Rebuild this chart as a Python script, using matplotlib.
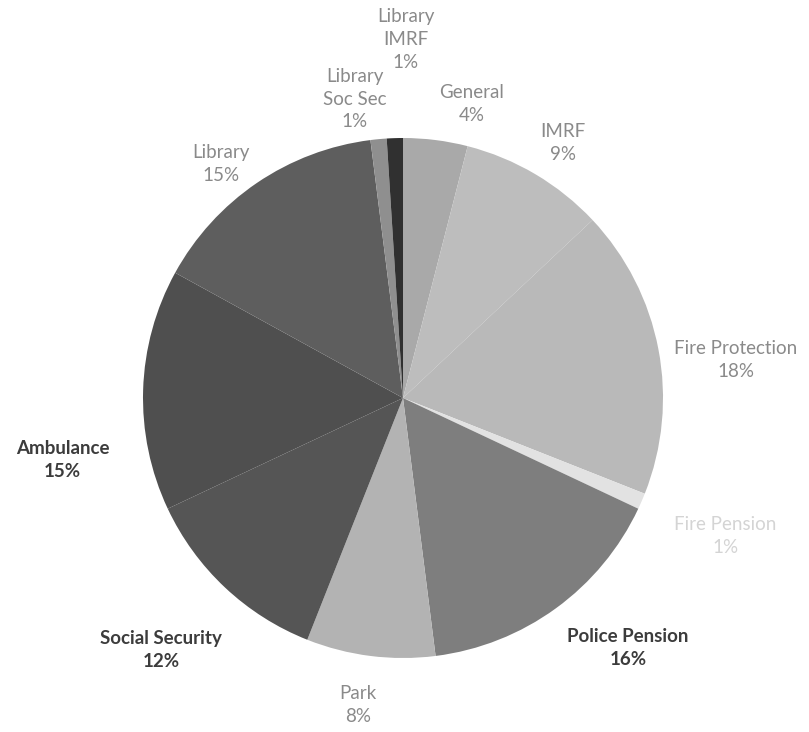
import matplotlib.pyplot as plt

plt.rcParams['font.family'] = ['Lato', 'DejaVu Sans']

labels = ['General', 'IMRF', 'Fire Protection', 'Fire Pension', 'Police Pension',
          'Park', 'Social Security', 'Ambulance', 'Library', 'Library\nSoc Sec',
          'Library\nIMRF']
shares = [4, 9, 18, 1, 16, 8, 12, 15, 15, 1, 1]

# slice fills (grey shades of the dithered original)
colors = ['#a9a9a9', '#bdbdbd', '#b9b9b9', '#e2e2e2', '#7e7e7e',
          '#b3b3b3', '#555555', '#4f4f4f', '#5e5e5e', '#8f8f8f', '#303030']
# label placement in pie units, and label colours
label_pos = [(0.265, 1.13), (0.615, 0.98), (1.28, 0.146), (1.24, -0.53),
             (0.865, -0.96), (-0.173, -1.18), (-0.93, -0.97), (-1.31, -0.24),
             (-0.70, 0.90), (-0.185, 1.15), (0.01, 1.38)]
label_col = ['#8a8a8a', '#8a8a8a', '#8a8a8a', '#d4d4d4', '#3c3c3c',
             '#8a8a8a', '#3c3c3c', '#3c3c3c', '#8a8a8a', '#8a8a8a', '#8a8a8a']
bold = [False, False, False, False, True, False, True, True, False, False, False]

fig = plt.figure(figsize=(8.09, 7.32), dpi=100)
ax = fig.add_axes([0, 0, 1, 1])
ax.pie(shares, colors=colors, startangle=90, counterclock=False, radius=1,
       wedgeprops=dict(linewidth=0))
ax.set_aspect('auto')
ax.set_xlim(-1.55, 1.5615)
ax.set_ylim(-1.2846, 1.5308)
ax.axis('off')

for lab, val, pos, c, b in zip(labels, shares, label_pos, label_col, bold):
    ax.text(pos[0], pos[1], f'{lab}\n{val}%', ha='center', va='center',
            color=c, fontsize=13.5, fontweight='bold' if b else 'normal',
            linespacing=1.42)

fig.savefig('out.png', dpi=100)
